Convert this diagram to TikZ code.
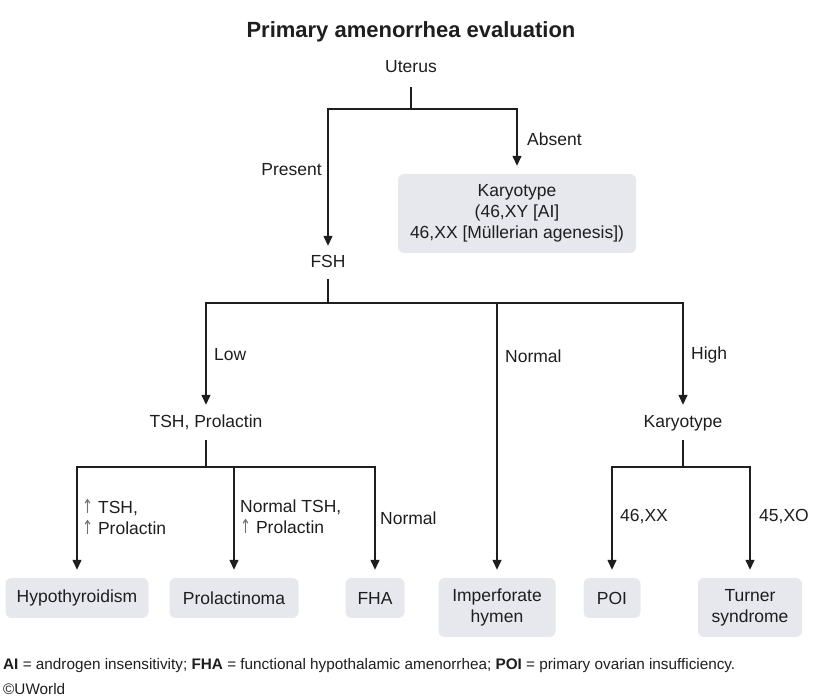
\documentclass[tikz,border=0pt]{standalone}
\usepackage{fontspec}
\setmainfont{Liberation Sans}
\newfontfamily\arrowfont{DejaVu Sans}
\usetikzlibrary{arrows.meta}
\definecolor{boxfill}{HTML}{E6E8EE}
\definecolor{linec}{HTML}{1E1E1E}
\definecolor{upc}{HTML}{707070}
\newcommand{\uparr}{{\color{upc}\scalebox{0.75}[1.1]{\arrowfont ↑}}}
\begin{document}
\begin{tikzpicture}[x=1pt,y=-1pt,
  txt/.style={inner sep=0pt,text height=12.5pt,text depth=3.5pt,font=\fontsize{17.5}{21}\selectfont,text=linec},
  lbl/.style={inner sep=0pt,font=\fontsize{17.5}{21}\selectfont,text=linec,align=left},
  box/.style={fill=boxfill,rounded corners=6pt,inner sep=0pt,align=center,font=\fontsize{17.5}{21}\selectfont,text=linec},
  ln/.style={draw=linec,line width=1.4pt},
  arr/.style={ln,-{Triangle[length=10pt,width=9pt]}},
  foot/.style={anchor=west,inner sep=0pt,font=\fontsize{15.3}{18}\selectfont,text=linec}
]
\useasboundingbox (0,0) rectangle (823,700);
\node[font=\bfseries\fontsize{22}{26}\selectfont,inner sep=0pt,text=linec] (title) at (411,32) {Primary amenorrhea evaluation};
% text nodes
\node[txt] (uterus) at (411,68) {Uterus};
\node[txt] (fsh) at (328,263) {FSH};
\node[txt] (tsh) at (206,423) {TSH, Prolactin};
\node[txt] (kar2) at (683,423) {Karyotype};
% boxes
\node[box,minimum width=238pt,minimum height=79pt] (kar1) at (517,213.5) {Karyotype\\(46,XY [AI]\\46,XX [Müllerian agenesis])};
\node[box,minimum width=143pt,minimum height=40pt] (hypo) at (77,598) {Hypothyroidism};
\node[box,minimum width=129pt,minimum height=40pt] (prol) at (234,598) {Prolactinoma};
\node[box,minimum width=59pt,minimum height=40pt] (fha) at (375,598) {FHA};
\node[box,minimum width=117pt,minimum height=59pt] (imp) at (497,607.5) {Imperforate\\hymen};
\node[box,minimum width=57pt,minimum height=40pt] (poi) at (612,598) {POI};
\node[box,minimum width=104pt,minimum height=59pt] (turner) at (750,607.5) {Turner\\syndrome};
% junctions
\coordinate (j0) at (411,109);
\coordinate (j1) at (328,303);
\coordinate (j2) at (206,467);
\coordinate (j3) at (683,467);
% connectors
\draw[ln,shorten <=11pt] (uterus.south) -- (j0);
\draw[arr,shorten >=9pt] (j0) -| (fsh.north);
\draw[arr,shorten >=8pt] (j0) -| (kar1.north);
\draw[ln,shorten <=8pt] (fsh.south) -- (j1);
\draw[arr,shorten >=10pt] (j1) -| (tsh.north);
\draw[arr,shorten >=8pt] (j1) -| (imp.north);
\draw[arr,shorten >=10pt] (j1) -| (kar2.north);
\draw[ln,shorten <=9pt] (tsh.south) -- (j2);
\draw[arr,shorten >=8pt] (j2) -| (hypo.north);
\draw[arr,shorten >=8pt] (j2) -| (prol.north);
\draw[arr,shorten >=8pt] (j2) -| (fha.north);
\draw[ln,shorten <=9pt] (kar2.south) -- (j3);
\draw[arr,shorten >=8pt] (j3) -| (poi.north);
\draw[arr,shorten >=8pt] (j3) -| (turner.north);
% labels
\node[lbl,anchor=east] (lpresent) at (322,170) {Present};
\node[lbl,anchor=west] (labsent) at (527,139) {Absent};
\node[lbl,anchor=west] (llow) at (214,355) {Low};
\node[lbl,anchor=west] (lnormal) at (505,356) {Normal};
\node[lbl,anchor=west] (lhigh) at (691,355) {High};
\node[lbl,anchor=west] (ltsh) at (82,517) {\uparr\ TSH,\\\uparr\ Prolactin};
\node[lbl,anchor=west] (lntsh) at (240,517) {Normal TSH,\\\uparr\ Prolactin};
\node[lbl,anchor=west] (lnorm2) at (380,518) {Normal};
\node[lbl,anchor=west] (lxx) at (620,517) {46,XX};
\node[lbl,anchor=west] (lxo) at (759,517) {45,XO};
% footer
\node[foot] (footnote) at (3,666) {\textbf{AI} = androgen insensitivity; \textbf{FHA} = functional hypothalamic amenorrhea; \textbf{POI} = primary ovarian insufficiency.};
\node[foot] (copy) at (3,689) {©UWorld};
\end{tikzpicture}
\end{document}
